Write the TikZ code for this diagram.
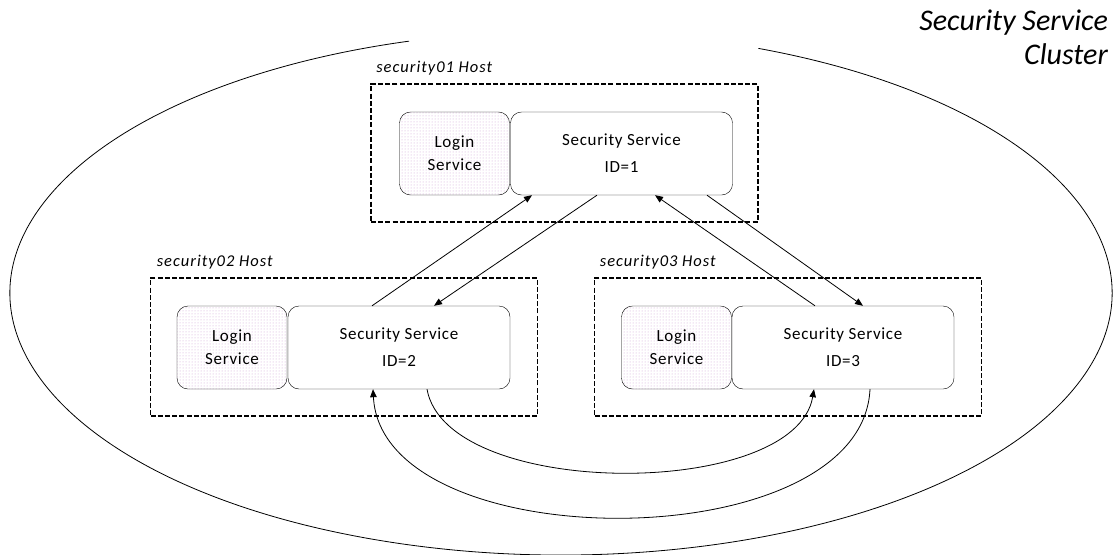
\documentclass[tikz,border=0pt]{standalone}
\usepackage{fontspec}
\setmainfont{Carlito}
\newfontfamily\boxfont[LetterSpace=4]{Carlito}
\newfontfamily\hostfont[LetterSpace=6]{Carlito}
\usetikzlibrary{arrows.meta,patterns}

\begin{document}
\begin{tikzpicture}
[
    x=1pt, y=-1pt,
    host/.style={draw, dash pattern=on 5pt off 2.2pt, line width=1.7pt, inner sep=0pt, minimum width=387pt, minimum height=138pt},
    hostlabel/.style={anchor=base west, inner sep=0pt, font=\hostfont\fontsize{16.5}{18}\selectfont\itshape},
    login/.style={draw, rounded corners=11pt, inner sep=0pt, pattern=dots, pattern color={rgb,255:red,205;green,160;blue,210}, minimum width=110pt, minimum height=83pt, align=center, font=\boxfont\fontsize{17}{23}\selectfont},
    secsvc/.style={draw, rounded corners=11pt, inner sep=0pt, fill=white, minimum width=222pt, minimum height=83pt, align=center, font=\boxfont\fontsize{17}{27}\selectfont},
    link/.style={line width=0.8pt, -{Triangle[length=8pt,width=6.5pt]}},
]
\useasboundingbox (0,0) rectangle (1116,554);
\draw [line width=0.8pt] (561,293) ++(69:551pt and 262pt) arc [start angle=69, end angle=-254, x radius=551pt, y radius=262pt];
\node [anchor=north east, align=right, inner sep=0pt, font=\fontsize{30}{34}\selectfont\itshape] (cluster) at (1108,10)
{Security Service\\Cluster};

\node [host] (host1) at (564.5,153) {};
\node [hostlabel] at ([xshift=6pt, yshift=11pt]host1.north west) {security01 Host};
\node [login] (login1) at (454.5,153.5) {Login\\Service};
\node [secsvc] (ss1) at (621.5,153.5) {Security Service\\ID=1};

\node [host] (host2) at (344,347) {};
\node [hostlabel] at ([xshift=7pt, yshift=11pt]host2.north west) {security02 Host};
\node [login] (login2) at (232,347.5) {Login\\Service};
\node [secsvc] (ss2) at (399,347.5) {Security Service\\ID=2};

\node [host] (host3) at (788,347) {};
\node [hostlabel] at ([xshift=6pt, yshift=11pt]host3.north west) {security03 Host};
\node [login] (login3) at (676.5,347.5) {Login\\Service};
\node [secsvc] (ss3) at (843,347.5) {Security Service\\ID=3};

\draw [link] ([xshift=-27pt]ss2.north) -- ([xshift=-89.5pt]ss1.south);
\draw [link] ([xshift=-24.5pt]ss1.south) -- ([xshift=35pt]ss2.north);
\draw [link] ([xshift=-28pt]ss3.north) -- ([xshift=33.5pt]ss1.south);
\draw [link] ([xshift=85.5pt]ss1.south) -- ([xshift=20pt]ss3.north);
\draw [link] ([xshift=28pt]ss2.south) .. controls (447,500) and (795,500) .. ([xshift=-29pt]ss3.south);
\draw [link] ([xshift=27pt]ss3.south) .. controls (862,560) and (382,560) .. ([xshift=-26pt]ss2.south);
\end{tikzpicture}
\end{document}
